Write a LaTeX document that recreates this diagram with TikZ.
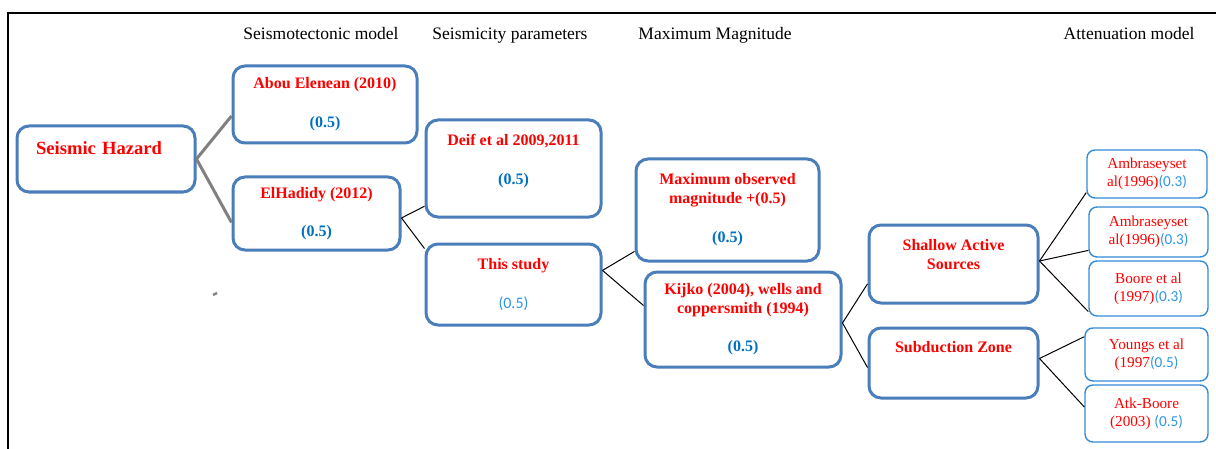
\documentclass[tikz,border=0pt]{standalone}
\usepackage{fontspec}
\setmainfont{Liberation Serif}
\newfontfamily\valfont{Carlito}
\usepackage{xcolor}
\usepackage{tikz}

\definecolor{boxblue}{RGB}{74,126,187}
\definecolor{thinblue}{RGB}{52,140,214}
\definecolor{wgtblue}{RGB}{0,112,192}
\definecolor{lightwgt}{RGB}{45,150,228}
\definecolor{linkgray}{RGB}{128,128,128}

\newcommand{\wgt}[1]{{\color{wgtblue}#1}}
\newcommand{\lwgt}[1]{{\valfont\mdseries\color{lightwgt}#1}}
\newcommand{\headsize}{\fontsize{8.75}{10.5}\selectfont}
\newcommand{\boxsize}{\fontsize{8}{9.6}\selectfont\bfseries}
\newcommand{\smallsize}{\fontsize{7.6}{9}\selectfont}

\begin{document}
\begin{tikzpicture}[
    x=0.5pt, y=-0.5pt,
    bigbox/.style={draw=boxblue, line width=1.5pt, rounded corners=6pt, align=center, text=red, font=\boxsize, inner sep=0pt},
    smallbox/.style={draw=thinblue, line width=0.7pt, rounded corners=4pt, align=center, text=red, font=\smallsize, inner sep=0pt},
    head/.style={anchor=base, font=\headsize},
    link/.style={line width=0.5pt},
    graylink/.style={draw=linkgray, line width=1.5pt}
]
\useasboundingbox (0,0) rectangle (1216,449);
\draw[line width=0.75pt] (8,449) -- (8,13) -- (1216,13);

\node[head] (hseismo) at (321,40) {Seismotectonic model};
\node[head] (hparam) at (510,40) {Seismicity parameters};
\node[head] (hmaxmag) at (715,40) {Maximum Magnitude};
\node[head] (hatten) at (1129,40) {Attenuation model};

\node[bigbox, minimum width=89pt, minimum height=33pt, text width=70pt, align=left, font=\fontsize{9.3}{11.2}\selectfont\bfseries] (hazard) at (106,159) {Seismic Hazard\\~};
\node[bigbox, minimum width=92pt, minimum height=38.5pt] (abou) at (325,104.5) {Abou Elenean (2010)\\[9.9pt]\wgt{(0.5)}};
\node[bigbox, minimum width=83.5pt, minimum height=36.5pt] (hadidy) at (316.5,213.5) {ElHadidy (2012)\\[9.4pt]\wgt{(0.5)}};
\node[bigbox, minimum width=87.5pt, minimum height=48.5pt] (deif) at (513.5,168.5) {Deif et al 2009,2011\\[9.9pt]\wgt{(0.5)}\\~};
\node[bigbox, minimum width=87.5pt, minimum height=40.5pt] (study) at (513.5,284.5) {This study\\[9.9pt]\lwgt{(0.5)}};
\node[bigbox, minimum width=91.5pt, minimum height=51pt] (maxobs) at (727.5,210) {Maximum observed\\magnitude +(0.5)\\[9.9pt]\wgt{(0.5)}};
\node[bigbox, minimum width=98pt, minimum height=47.5pt] (kijko) at (743,319.5) {Kijko (2004), wells and\\coppersmith (1994)\\[9.4pt]\wgt{(0.5)}};
\node[bigbox, minimum width=84.5pt, minimum height=39pt] (shallow) at (953.5,264) {Shallow Active\\Sources\\~};
\node[bigbox, minimum width=84.5pt, minimum height=35pt] (subduct) at (953.5,363) {Subduction Zone\\[6.4pt]~};

\node[smallbox, minimum width=60pt, minimum height=24pt] (amb1) at (1147,174) {Ambraseyset\\al(1996)\lwgt{(0.3)}};
\node[smallbox, minimum width=59.5pt, minimum height=25pt] (amb2) at (1148.5,232) {Ambraseyset\\al(1996)\lwgt{(0.3)}};
\node[smallbox, minimum width=59.5pt, minimum height=27.5pt] (boore) at (1148.5,288.5) {Boore et al\\(1997)\lwgt{(0.3)}};
\node[smallbox, minimum width=61.5pt, minimum height=26.5pt] (youngs) at (1146.5,354.5) {Youngs et al\\(1997\lwgt{(0.5)}};
\node[smallbox, minimum width=61.5pt, minimum height=28.5pt] (atk) at (1146.5,413.5) {Atk-Boore\\(2003) \lwgt{(0.5)}};

\draw[graylink] (hazard.east) -- (abou.187);
\draw[graylink] (hazard.east) -- (hadidy.186);
\draw[link] (hadidy.357) -- (deif.203);
\draw[link] (hadidy.357) -- (study.158);
\draw[link] (study.9) -- (maxobs.204);
\draw[link] (study.9) -- (kijko.172);
\draw[link] (kijko.358) -- (shallow.193);
\draw[link] (kijko.358) -- (subduct.183);
\draw[link] (shallow.2) -- (amb1.197);
\draw[link] (shallow.2) -- (amb2.197);
\draw[link] (shallow.2) -- (boore.201);
\draw[link] (subduct.3) -- (youngs.164);
\draw[link] (subduct.3) -- (atk.174);
\draw[linkgray, line width=1.2pt] (213,295) -- (217,293);
\end{tikzpicture}
\end{document}
